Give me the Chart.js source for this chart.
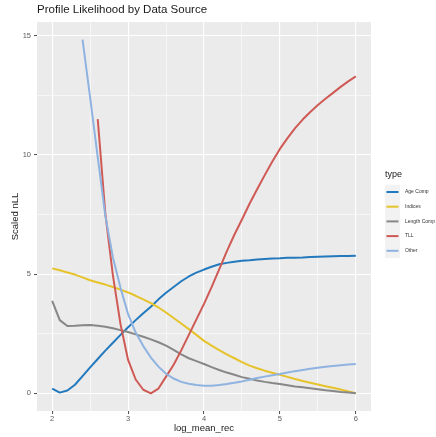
<!DOCTYPE html>
<html>
<head>
<meta charset="utf-8">
<script src="https://cdn.jsdelivr.net/npm/chart.js@4/dist/chart.umd.min.js"></script>
<style>
  html, body { margin: 0; padding: 0; background: #ffffff; }
  #wrap { width: 436px; height: 437px; }
</style>
</head>
<body>
<div id="wrap"><canvas id="c" width="436" height="437"></canvas></div>
<script>
// Profile grid of log_mean_rec values
const logMeanRec = [2.0, 2.1, 2.2, 2.3, 2.4, 2.5, 2.6, 2.7, 2.8, 2.9,
                    3.0, 3.1, 3.2, 3.3, 3.4, 3.5, 3.6, 3.7, 3.8, 3.9,
                    4.0, 4.1, 4.2, 4.3, 4.4, 4.5, 4.6, 4.7, 4.8, 4.9,
                    5.0, 5.1, 5.2, 5.3, 5.4, 5.5, 5.6, 5.7, 5.8, 5.9, 6.0];

// Scaled negative log-likelihood by data source
const ageComp = [0.20, 0.03, 0.12, 0.36, 0.72, 1.09, 1.44, 1.79, 2.12, 2.45,
                 2.77, 3.07, 3.36, 3.63, 3.94, 4.22, 4.46, 4.70, 4.90, 5.06,
                 5.19, 5.31, 5.41, 5.47, 5.52, 5.56, 5.58, 5.61, 5.63, 5.65,
                 5.66, 5.68, 5.69, 5.70, 5.72, 5.73, 5.74, 5.75, 5.76, 5.76, 5.77];
const indices = [5.24, 5.16, 5.07, 4.98, 4.86, 4.74, 4.65, 4.56, 4.46, 4.35,
                 4.23, 4.09, 3.94, 3.78, 3.60, 3.39, 3.16, 2.93, 2.69, 2.45,
                 2.20, 2.00, 1.81, 1.63, 1.47, 1.31, 1.16, 1.05, 0.95, 0.86,
                 0.78, 0.69, 0.60, 0.52, 0.44, 0.37, 0.30, 0.23, 0.16, 0.08, 0.00];
const lengthComp = [3.88, 3.07, 2.82, 2.83, 2.85, 2.86, 2.83, 2.79, 2.73, 2.65,
                    2.57, 2.47, 2.37, 2.26, 2.14, 2.00, 1.82, 1.63, 1.47, 1.35,
                    1.23, 1.10, 0.98, 0.87, 0.78, 0.68, 0.61, 0.54, 0.48, 0.43,
                    0.39, 0.34, 0.29, 0.25, 0.21, 0.17, 0.13, 0.10, 0.06, 0.03, 0.00];
const tll = [null, null, null, null, null, null, 11.50, 7.55, 4.95, 2.90,
             1.40, 0.58, 0.15, 0.00, 0.20, 0.70, 1.20, 1.80, 2.45, 3.10,
             3.75, 4.45, 5.20, 5.95, 6.65, 7.29, 7.95, 8.56, 9.15, 9.72,
             10.25, 10.70, 11.12, 11.48, 11.80, 12.09, 12.35, 12.60, 12.85, 13.08, 13.29];
const other = [null, null, null, null, 14.83, 12.40, 9.90, 7.45, 5.70, 4.43,
               3.32, 2.55, 1.98, 1.50, 1.12, 0.82, 0.62, 0.48, 0.40, 0.35,
               0.32, 0.32, 0.35, 0.39, 0.44, 0.50, 0.57, 0.64, 0.70, 0.76,
               0.81, 0.87, 0.93, 0.98, 1.03, 1.07, 1.11, 1.15, 1.18, 1.21, 1.23];

const typeLabels = ['Age Comp', 'Indices', 'Length Comp', 'TLL', 'Other'];
const typeColors = ['#2379bd', '#e6c32a', '#878787', '#cf5a55', '#8fb3e0'];
const seriesList = [ageComp, indices, lengthComp, tll, other];

// Axis breaks (majors labelled, minors only as grid lines)
const xBreaks = [2, 2.5, 3, 3.5, 4, 4.5, 5, 5.5, 6];
const yBreaks = [0, 2.5, 5, 7.5, 10, 12.5, 15];
const xMajor = v => Number.isInteger(v);
const yMajor = v => v % 5 === 0;

// Continuous-scale padding of 5% on each side
const allY = seriesList.flat().filter(v => v !== null);
const yLo = Math.min(...allY), yHi = Math.max(...allY);
const yPad = (yHi - yLo) * 0.05;
const xLo = Math.min(...logMeanRec), xHi = Math.max(...logMeanRec);
const xPad = (xHi - xLo) * 0.05;

const FONT = '"Liberation Sans", Arial, Helvetica, sans-serif';

const panelBackground = {
  id: 'panelBackground',
  beforeDraw(chart) {
    const { ctx, chartArea: a } = chart;
    ctx.save();
    ctx.fillStyle = '#ebebeb';
    ctx.fillRect(a.left, a.top, a.right - a.left, a.bottom - a.top);
    ctx.restore();
  }
};

const titleAndLegend = {
  id: 'titleAndLegend',
  afterDraw(chart) {
    const { ctx, chartArea: a } = chart;
    ctx.save();
    // plot title
    ctx.fillStyle = '#1a1a1a';
    ctx.font = '11.5px ' + FONT;
    ctx.textAlign = 'left';
    ctx.textBaseline = 'middle';
    ctx.fillText('Profile Likelihood by Data Source', a.left, 9.5);

    // legend: title, then one key per series on a light key background
    const lx = 385;
    ctx.fillStyle = '#1a1a1a';
    ctx.font = '9px ' + FONT;
    ctx.fillText('type', lx, 175);
    const y0 = 192, dy = 14.7;
    const n = chart.data.datasets.length;
    ctx.fillStyle = '#f2f2f2';
    ctx.fillRect(lx, y0 - dy / 2, 15, dy * n);
    chart.data.datasets.forEach((ds, i) => {
      const y = y0 + i * dy;
      ctx.strokeStyle = ds.borderColor;
      ctx.lineWidth = 2;
      ctx.beginPath();
      ctx.moveTo(lx + 1.5, y);
      ctx.lineTo(lx + 13.5, y);
      ctx.stroke();
      ctx.fillStyle = '#333333';
      ctx.font = '5px ' + FONT;
      ctx.fillText(ds.label, lx + 20, y);
    });
    ctx.restore();
  }
};

const datasets = typeLabels.map((label, i) => ({
  label,
  data: logMeanRec.map((x, j) => ({ x, y: seriesList[i][j] })),
  borderColor: typeColors[i],
  backgroundColor: typeColors[i],
  borderWidth: 2,
  pointRadius: 0,
  tension: 0,
  spanGaps: false,
  borderJoinStyle: 'round',
  order: typeLabels.length - i
}));

new Chart(document.getElementById('c'), {
  type: 'line',
  data: { datasets },
  plugins: [panelBackground, titleAndLegend],
  options: {
    responsive: false,
    devicePixelRatio: 1,
    animation: false,
    layout: { padding: { left: 0, right: 65, top: 22, bottom: 0 } },
    plugins: { legend: { display: false }, tooltip: { enabled: false }, title: { display: false } },
    scales: {
      x: {
        type: 'linear',
        min: xLo - xPad,
        max: xHi + xPad,
        afterBuildTicks: s => { s.ticks = xBreaks.map(v => ({ value: v })); },
        afterFit: s => { s.height = 26; },
        border: { display: false },
        grid: {
          color: '#ffffff',
          lineWidth: c => (c.tick && xMajor(c.tick.value)) ? 1.1 : 0.55,
          tickColor: c => (c.tick && xMajor(c.tick.value)) ? '#4d4d4d' : 'rgba(0,0,0,0)',
          tickLength: 3,
          tickWidth: 1
        },
        ticks: {
          autoSkip: false,
          maxRotation: 0,
          padding: 0,
          color: '#5a5a5a',
          font: { family: FONT, size: 7.5 },
          callback: v => xMajor(v) ? String(v) : ''
        },
        title: {
          display: true,
          text: 'log_mean_rec',
          color: '#1a1a1a',
          font: { family: FONT, size: 9.5 },
          padding: { top: 0, bottom: 3 }
        }
      },
      y: {
        type: 'linear',
        min: yLo - yPad,
        max: yHi + yPad,
        afterBuildTicks: s => { s.ticks = yBreaks.map(v => ({ value: v })); },
        afterFit: s => { s.width = 37; },
        border: { display: false },
        grid: {
          color: '#ffffff',
          lineWidth: c => (c.tick && yMajor(c.tick.value)) ? 1.1 : 0.55,
          tickColor: c => (c.tick && yMajor(c.tick.value)) ? '#4d4d4d' : 'rgba(0,0,0,0)',
          tickLength: 3,
          tickWidth: 1
        },
        ticks: {
          padding: 3,
          color: '#5a5a5a',
          font: { family: FONT, size: 7.5 },
          callback: v => yMajor(v) ? String(v) : ''
        },
        title: {
          display: true,
          text: 'Scaled nLL',
          color: '#1a1a1a',
          font: { family: FONT, size: 9.5 },
          padding: { top: 9.3, bottom: 0 }
        }
      }
    }
  }
});
</script>
</body>
</html>
